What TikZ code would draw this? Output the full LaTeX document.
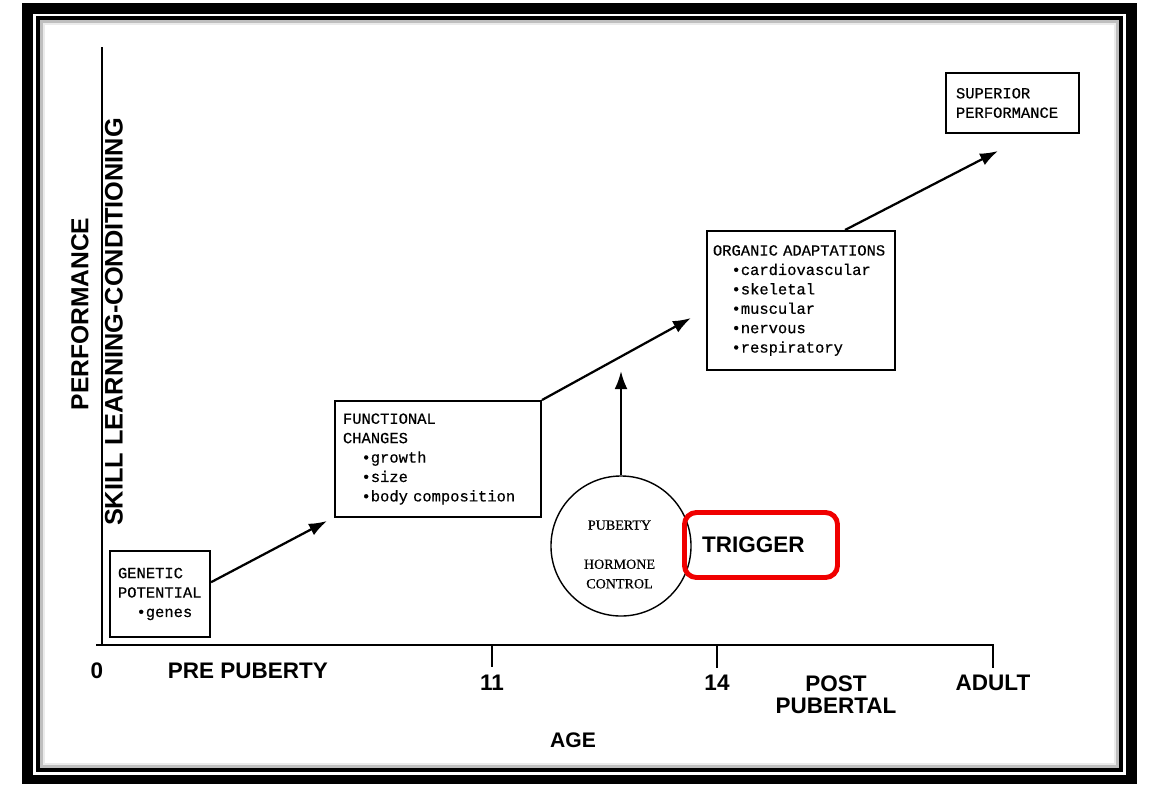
\documentclass[tikz,border=0pt]{standalone}
\usepackage{fontspec}
\setsansfont{Liberation Sans}
\setmonofont{Liberation Mono}[FakeBold=0.5]
\newfontfamily\circfont{Liberation Serif}[FakeBold=0.4]
\usetikzlibrary{positioning,arrows.meta}

\definecolor{trigred}{RGB}{240,0,0}
\newcommand{\bul}{\hspace*{1.2em}\textbullet}

\tikzset{
  stagebox/.style={draw, line width=1.4pt, align=left, inner xsep=0.2cm,
    font=\ttfamily\fontsize{11}{13.8}\selectfont},
  axislabel/.style={inner sep=0pt, font=\sffamily\bfseries\fontsize{16}{15.6}\selectfont},
  growth/.style={-{Latex[length=0.45cm,width=0.32cm]}, line width=1.6pt},
  trigbox/.style={draw=trigred, line width=3.5pt, rounded corners=0.3cm, align=left,
    font=\sffamily\bfseries\fontsize{16}{18}\selectfont}
}

\begin{document}
\begin{tikzpicture}[x=0.025cm, y=-0.025cm]
  \useasboundingbox (0,0) rectangle (1151,784);

  % frame
  \fill[black] (22,3) rectangle (1137,784);
  \fill[white] (33,14) rectangle (1126,775);
  \fill[black] (36,16) rectangle (1123,772);
  \fill[white] (40,20) rectangle (1119,768);
  \draw[black!25, line width=2pt] (41.5,21.5) rectangle (1117.5,766.5);
  \draw[black!8, line width=2pt] (44,24) rectangle (1115,764);

  % axes
  \coordinate (ytop) at (102,47);
  \coordinate (origin) at (102,645);
  \coordinate (xstart) at (96,645);
  \coordinate (xend) at (993,645);
  \coordinate (tkadult) at (993,668);
  \coordinate (tk11) at (492,667);
  \coordinate (tk14) at (717,668);
  \draw[line width=1.5pt] (ytop) -- (origin);
  \draw[line width=1.5pt] (xstart) -- (xend) -- (tkadult);
  \draw[line width=1.5pt] (tk11 |- origin) -- (tk11);
  \draw[line width=1.5pt] (tk14 |- origin) -- (tk14);

  \node (zero) [axislabel] at (97,671) {0};
  \node (pre) [axislabel] at (248,671) {PRE PUBERTY};
  \node (lab11) [axislabel, below=0.2cm of tk11] {11};
  \node (lab14) [axislabel, below=0.175cm of tk14] {14};
  \node (adult) [axislabel, below=0.175cm of tkadult] {ADULT};
  \node (post) [axislabel, align=center] at (836,695) {POST\\PUBERTAL};
  \node (age) [axislabel, font=\sffamily\bfseries\fontsize{15}{17}\selectfont] at (573,740) {AGE};
  \node (perf) [axislabel, rotate=90, font=\sffamily\bfseries\fontsize{17.5}{20}\selectfont] at (80,314) {PERFORMANCE};
  \node (skill) [axislabel, rotate=90, font=\sffamily\bfseries\fontsize{18}{20}\selectfont] at (114,322) {SKILL LEARNING-CONDITIONING};

  % stages
  \node (gen) [stagebox, minimum width=2.5cm, minimum height=2.15cm, text width=2.1cm] at (160,594)
    {GENETIC\\POTENTIAL\\\bul genes};
  \node (fun) [stagebox, minimum width=5.15cm, minimum height=2.9cm, text width=4.75cm] at (438,459)
    {FUNCTIONAL\\CHANGES\\\bul growth\\\bul size\\\bul body composition};
  \node (org) [stagebox, inner xsep=0.15cm, minimum width=4.7cm, minimum height=3.475cm, text width=4.4cm] at (801,300.5)
    {ORGANIC ADAPTATIONS\\\bul cardiovascular\\\bul skeletal\\\bul muscular\\\bul nervous\\\bul respiratory};
  \node (sup) [stagebox, inner xsep=0.25cm, minimum width=3.325cm, minimum height=1.5cm, text width=2.825cm] at (1012.5,103)
    {SUPERIOR\\PERFORMANCE};

  % puberty
  \node (pub) [circle, draw, line width=1pt, minimum size=3.5cm] at (621,546) {};
  \node (pubtxt) [align=center, font=\circfont\fontsize{10}{13.9}\selectfont] at (619.5,554.5)
    {PUBERTY\\[13.9pt]HORMONE\\CONTROL};
  \node (trig) [trigbox, minimum width=3.825cm, minimum height=1.625cm, text width=2.945cm, inner xsep=0.44cm] at (761,545)
    {TRIGGER};

  % arrows
  \draw[growth] (gen.13) -- ([shift={(-7,3)}]fun.south west);
  \draw[growth] (fun.north east) -- ([shift={(-15,17.5)}]org.west);
  \draw[growth] (pub.north) -- (pub.north |- org.south);
  \draw[growth] ([xshift=1.1cm]org.north) -- ([shift={(-14.5,17)}]sup.south);
\end{tikzpicture}
\end{document}
